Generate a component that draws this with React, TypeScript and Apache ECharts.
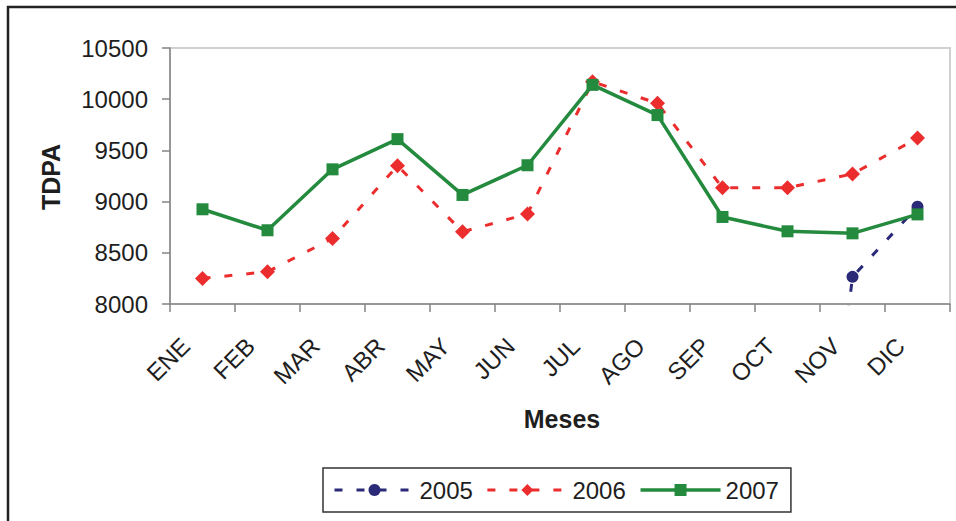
import React, { useEffect, useRef } from "react";
import * as echarts from "echarts";

const months = ["ENE", "FEB", "MAR", "ABR", "MAY", "JUN", "JUL", "AGO", "SEP", "OCT", "NOV", "DIC"];
const s2005 = [null, null, null, null, null, null, null, null, null, 3000, 8265, 8950];
const s2006 = [8250, 8315, 8640, 9350, 8705, 8880, 10170, 9960, 9135, 9135, 9270, 9620];
const s2007 = [8925, 8720, 9315, 9610, 9065, 9355, 10140, 9845, 8850, 8710, 8690, 8875];
const seriesNames = ["2005", "2006", "2007"];
const yMin = 8000;
const yMax = 10500;
const yStep = 500;

const FONT = "'Liberation Sans', Arial, sans-serif";
const TEXT = "#1e1e1e";
const AXIS = "#858585";

export default function App() {
  const ref = useRef<HTMLDivElement>(null);
  useEffect(() => {
    if (!ref.current) return;
    const chart = echarts.init(ref.current, undefined, { renderer: "svg" });
    chart.setOption({
      animation: false,
      backgroundColor: "#ffffff",
      textStyle: { fontFamily: FONT },
      grid: {
        left: 170,
        top: 48,
        right: 6,
        bottom: 217,
        show: true,
        borderColor: "#d0d0d0",
        borderWidth: 2,
        backgroundColor: "transparent",
      },
      xAxis: {
        type: "category",
        data: months,
        boundaryGap: true,
        axisLine: { lineStyle: { color: AXIS, width: 1.5 } },
        axisTick: { show: true, interval: 0, length: 8, lineStyle: { color: AXIS, width: 1.5 } },
        axisLabel: {
          interval: 0,
          rotate: 45,
          margin: 21,
          padding: [0, 24, 0, 0],
          fontSize: 24,
          color: TEXT,
          fontFamily: FONT,
        },
        splitLine: { show: false },
      },
      yAxis: {
        type: "value",
        min: yMin,
        max: yMax,
        interval: yStep,
        axisLine: { show: true, lineStyle: { color: AXIS, width: 1.5 } },
        axisTick: { show: true, length: 8, lineStyle: { color: AXIS, width: 1.5 } },
        axisLabel: {
          fontSize: 24,
          color: TEXT,
          margin: 22,
          fontFamily: FONT,
          formatter: (v: number) => String(v),
        },
        splitLine: { show: false },
      },
      legend: {
        data: seriesNames,
        orient: "horizontal",
        left: 323,
        top: 468,
        itemWidth: 80,
        itemHeight: 15,
        itemGap: 13,
        padding: [10, 12, 10, 10],
        borderColor: "#333333",
        borderWidth: 1.5,
        lineStyle: { width: "inherit", type: "inherit" },
        textStyle: { fontSize: 24, color: TEXT, fontFamily: FONT },
      },
      graphic: [
        {
          type: "rect",
          shape: { x: 8, y: 7, width: 1000, height: 600 },
          style: { fill: "none", stroke: "#222222", lineWidth: 2.5 },
          silent: true,
        },
        {
          type: "text",
          x: 51,
          y: 177,
          rotation: Math.PI / 2,
          style: {
            text: "TDPA",
            fontSize: 25,
            fontWeight: "bold",
            fontFamily: FONT,
            fill: TEXT,
            align: "center",
            verticalAlign: "middle",
          },
        },
        {
          type: "text",
          x: 562,
          y: 419,
          style: {
            text: "Meses",
            fontSize: 25,
            fontWeight: "bold",
            fontFamily: FONT,
            fill: TEXT,
            align: "center",
            verticalAlign: "middle",
          },
        },
      ],
      series: [
        {
          name: seriesNames[0],
          type: "line",
          data: s2005,
          clip: true,
          connectNulls: false,
          symbol: "circle",
          symbolSize: 12,
          color: "#2b2a78",
          itemStyle: { color: "#2b2a78" },
          lineStyle: { color: "#2b2a78", width: 3, type: [8, 14] },
        },
        {
          name: seriesNames[1],
          type: "line",
          data: s2006,
          clip: true,
          symbol: "diamond",
          symbolSize: 15,
          color: "#ec2d2d",
          itemStyle: { color: "#ec2d2d" },
          lineStyle: { color: "#ec2d2d", width: 3, type: [8, 14] },
        },
        {
          name: seriesNames[2],
          type: "line",
          data: s2007,
          clip: true,
          symbol: "rect",
          symbolSize: 12,
          color: "#238a3e",
          itemStyle: { color: "#238a3e" },
          lineStyle: { color: "#238a3e", width: 3.5 },
        },
      ],
    });
    return () => chart.dispose();
  }, []);
  return (
    <div
      ref={ref}
      style={{ position: "absolute", left: 0, top: 0, width: 956, height: 521, background: "#fff" }}
    />
  );
}
